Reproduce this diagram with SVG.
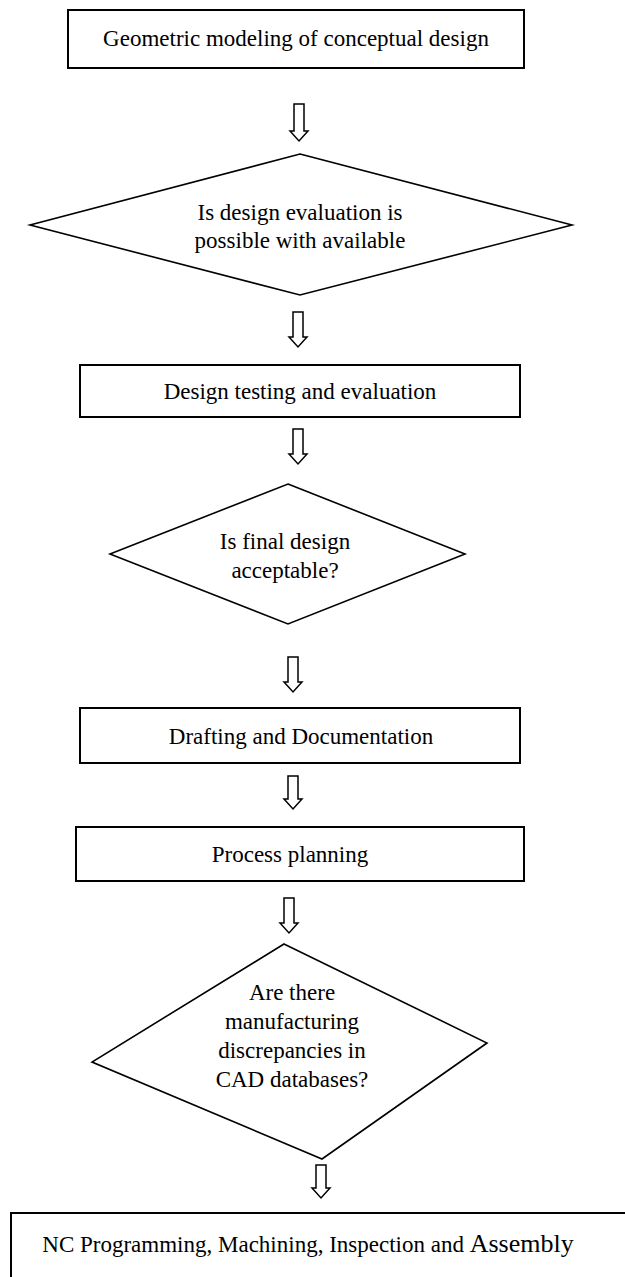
<svg xmlns="http://www.w3.org/2000/svg" width="625" height="1277" viewBox="0 0 625 1277">
<style>
.box{fill:#fff;stroke:#000;stroke-width:2}
.dia{fill:#fff;stroke:#000;stroke-width:1.6;stroke-linejoin:miter}
.arr{fill:#fff;stroke:#000;stroke-width:1.5;stroke-linejoin:miter}
text{font-family:"Liberation Serif","Times New Roman",serif;font-size:23px;fill:#000;text-anchor:middle}
</style>
<rect width="625" height="1277" fill="#fff"/>
<g id="n1"><rect class="box" x="68" y="10" width="456" height="58"/><text x="296" y="46">Geometric modeling of conceptual design</text></g>
<g id="n2"><polygon class="dia" points="300,154 572,225 300,295 30,225"/><text x="300" y="220">Is design evaluation is</text><text x="300" y="248">possible with available</text></g>
<g id="n3"><rect class="box" x="80" y="365" width="440" height="52"/><text x="300" y="399">Design testing and evaluation</text></g>
<g id="n4"><polygon class="dia" points="288,484 465,554 288,624 110,554"/><text x="285" y="549">Is final design</text><text x="285" y="578">acceptable?</text></g>
<g id="n5"><rect class="box" x="80" y="708" width="440" height="55"/><text x="301" y="744">Drafting and Documentation</text></g>
<g id="n6"><rect class="box" x="76" y="827" width="448" height="54"/><text x="290" y="862">Process planning</text></g>
<g id="n7"><polygon class="dia" points="284,944 487,1043 322,1159 92,1062"/><text x="292" y="1000">Are there</text><text x="292" y="1029">manufacturing</text><text x="292" y="1058">discrepancies in</text><text x="292" y="1087">CAD databases?</text></g>
<g id="n8"><rect class="box" x="11" y="1213" width="620" height="70"/><text x="308" y="1252" font-size="22">NC Programming, Machining, Inspection and <tspan font-size="26">Assembly</tspan></text></g>
<g id="connectors">
<path class="arr" d="M294,104 H304 V131 H308 L299,141 L290,131 H294 Z"/>
<path class="arr" d="M293,312 H303 V337 H307 L298,347 L289,337 H293 Z"/>
<path class="arr" d="M293,429 H303 V454 H307 L298,464 L289,454 H293 Z"/>
<path class="arr" d="M288,657 H298 V682 H302 L293,692 L284,682 H288 Z"/>
<path class="arr" d="M288,776 H298 V799 H302 L293,809 L284,799 H288 Z"/>
<path class="arr" d="M284,898 H294 V923 H298 L289,933 L280,923 H284 Z"/>
<path class="arr" d="M316,1165 H326 V1188 H330 L321,1198 L312,1188 H316 Z"/>
</g>
</svg>
